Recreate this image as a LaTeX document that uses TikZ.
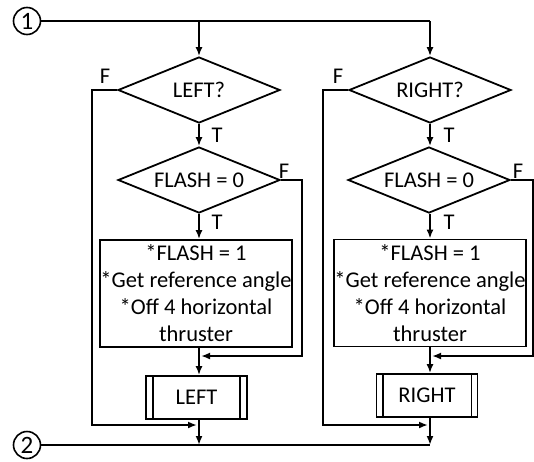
\documentclass[tikz,border=0pt]{standalone}
\usepackage{fontspec}
\setmainfont{Carlito}
\usetikzlibrary{shapes.geometric,arrows.meta}
\begin{document}
\begin{tikzpicture}[x=1pt,y=-1pt,
  every node/.style={font=\fontsize{22.5}{27}\selectfont},
  arr/.style={line width=1.8pt, -{Latex[length=9pt,width=7pt]}},
  plain/.style={line width=1.8pt},
  decision/.style={draw, line width=1.8pt, diamond, inner sep=0pt, aspect=2.45,
    minimum width=162pt, minimum height=66pt},
  process/.style={draw, line width=1.8pt, rectangle, align=center, inner sep=0pt,
    minimum width=192pt, minimum height=107pt},
  subproc/.style={draw, line width=1.8pt, rectangle, inner sep=0pt,
    minimum width=101pt, minimum height=43pt},
  connector/.style={draw, line width=1.6pt, circle, inner sep=-4pt, minimum size=27pt,
    font=\fontsize{25}{25}\selectfont},
  lbl/.style={inner sep=0pt}
]
\useasboundingbox (0,0) rectangle (534,461);

% entry and exit connectors
\node[connector] (c1) at (27,21) {1};
\node[connector] (c2) at (27,445) {2};

% left branch
\node[decision] (dL1) at (199,90) {LEFT?};
\node[decision] (dL2) at (199,180) {FLASH = 0};
\node[process] (pL) at (196,293.5) {*FLASH = 1\\*Get reference angle\\*Off 4 horizontal\\thruster};
\node[subproc] (sL) at (196.5,397.5) {LEFT};
\draw[plain] ([xshift=8pt]sL.north west) -- ([xshift=8pt]sL.south west)
  ([xshift=-8pt]sL.north east) -- ([xshift=-8pt]sL.south east);

% right branch
\node[decision] (dR1) at (430,90) {RIGHT?};
\node[decision] (dR2) at (429,180) {FLASH = 0};
\node[process] (pR) at (430,293) {*FLASH = 1\\*Get reference angle\\*Off 4 horizontal\\thruster};
\node[subproc] (sR) at (427,395.5) {RIGHT};
\draw[plain] ([xshift=7pt]sR.north west) -- ([xshift=7pt]sR.south west)
  ([xshift=-7pt]sR.north east) -- ([xshift=-7pt]sR.south east);

% junction points
\coordinate (topL) at (199,21);
\coordinate (topR) at (430,21);
\coordinate (botL) at (199,445);
\coordinate (botR) at (430,445);
\coordinate (jL1) at (199,425);
\coordinate (jL2) at (199,356);
\coordinate (jR1) at (430,425);
\coordinate (jR2) at (430,356);

% top distribution
\draw[plain] (c1.east) -- (topR);
\draw[arr] (topL) -- (dL1.north);
\draw[arr] (topR) -- (dR1.north);

% left column flow
\draw[arr] (dL1.south) -- (dL2.north);
\draw[arr] (dL2.south) -- (dL2.south |- pL.north);
\draw[arr] (dL2.south |- pL.south) -- (dL2.south |- sL.north);
\draw[arr] (dL2.south |- sL.south) -- (botL);
\draw[arr] (dL1.west) -- (92,90) -- (92,425) -- ([xshift=-2pt]jL1);
\draw[arr] (dL2.east) -- (302,180) -- (302,356) -- ([xshift=2pt]jL2);

% right column flow
\draw[arr] (dR1.south) -- (dR1.south |- dR2.north);
\draw[arr] (dR1.south |- dR2.south) -- (dR1.south |- pR.north);
\draw[arr] (dR1.south |- pR.south) -- (dR1.south |- sR.north);
\draw[arr] (dR1.south |- sR.south) -- (botR);
\draw[arr] (dR1.west) -- (323,90) -- (323,425) -- ([xshift=-2pt]jR1);
\draw[arr] (dR2.east) -- (533,180) -- (533,356) -- ([xshift=2pt]jR2);

% exit line
\draw[plain] (c2.east) -- (botR);

% branch labels
\node[lbl] at (105,76) {F};
\node[lbl] at (338,76) {F};
\node[lbl] at (284,171) {F};
\node[lbl] at (518,171) {F};
\node[lbl] at (217,135) {T};
\node[lbl] at (217,222) {T};
\node[lbl] at (449,135) {T};
\node[lbl] at (449,222) {T};
\end{tikzpicture}
\end{document}
